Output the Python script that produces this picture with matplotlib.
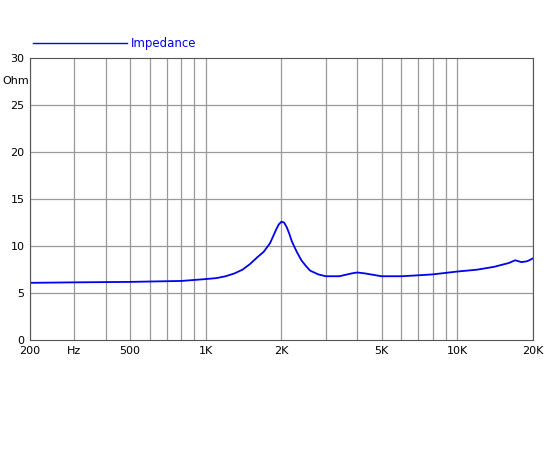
import matplotlib
matplotlib.use("Agg")
import matplotlib.pyplot as plt
from matplotlib.ticker import FixedLocator, NullLocator

freq = [200, 300, 500, 800, 1000, 1100, 1200, 1300, 1400, 1500, 1600, 1700, 1800,
        1850, 1900, 1950, 2000, 2050, 2100, 2150, 2200, 2300, 2400, 2500, 2600,
        2800, 3000, 3400, 3800, 4000, 4300, 5000, 6000, 7000, 8000, 10000, 12000,
        14000, 16000, 17000, 18000, 19000, 20000]
impedance = [6.1, 6.15, 6.2, 6.3, 6.5, 6.6, 6.8, 7.1, 7.5, 8.1, 8.8, 9.4, 10.3,
             11.0, 11.7, 12.3, 12.6, 12.5, 12.0, 11.3, 10.5, 9.4, 8.5, 7.9, 7.4,
             7.0, 6.8, 6.8, 7.1, 7.2, 7.1, 6.8, 6.8, 6.9, 7.0, 7.3, 7.5,
             7.8, 8.2, 8.5, 8.3, 8.4, 8.7]
grid_freqs = [200, 300, 400, 500, 600, 700, 800, 900, 1000, 2000, 3000, 4000,
              5000, 6000, 7000, 8000, 9000, 10000, 20000]
tick_freqs = [200, 300, 500, 1000, 2000, 5000, 10000, 20000]
tick_labels = ["200", "Hz", "500", "1K", "2K", "5K", "10K", "20K"]

fig = plt.figure(figsize=(5.5, 4.5), dpi=100)
ax = fig.add_axes([0.0545, 0.244, 0.9145, 0.627])
ax.set_xscale("log")
ax.set_xlim(200, 20000)
ax.set_ylim(0, 30)
ax.xaxis.set_major_locator(FixedLocator(tick_freqs))
ax.xaxis.set_minor_locator(NullLocator())
ax.set_xticklabels(tick_labels, fontsize=8)
ax.set_yticks(range(0, 31, 5))
ax.tick_params(labelsize=8, length=0, pad=4)
for f in grid_freqs:
    ax.axvline(f, color="#999999", lw=0.9, zorder=0)
for v in range(5, 30, 5):
    ax.axhline(v, color="#999999", lw=0.9, zorder=0)
for s in ax.spines.values():
    s.set_color("#555555")

ax.plot(freq, impedance, color="#0000ee", lw=1.3)
fig.text(0.005, 0.82, "Ohm", fontsize=8, va="center")

fig.lines.append(plt.Line2D([0.06, 0.231], [0.904, 0.904], color="#0000ee", lw=1,
                            transform=fig.transFigure))
fig.text(0.238, 0.904, "Impedance", color="#0000ee", fontsize=8.5, va="center")

fig.savefig("out.png", dpi=100)
